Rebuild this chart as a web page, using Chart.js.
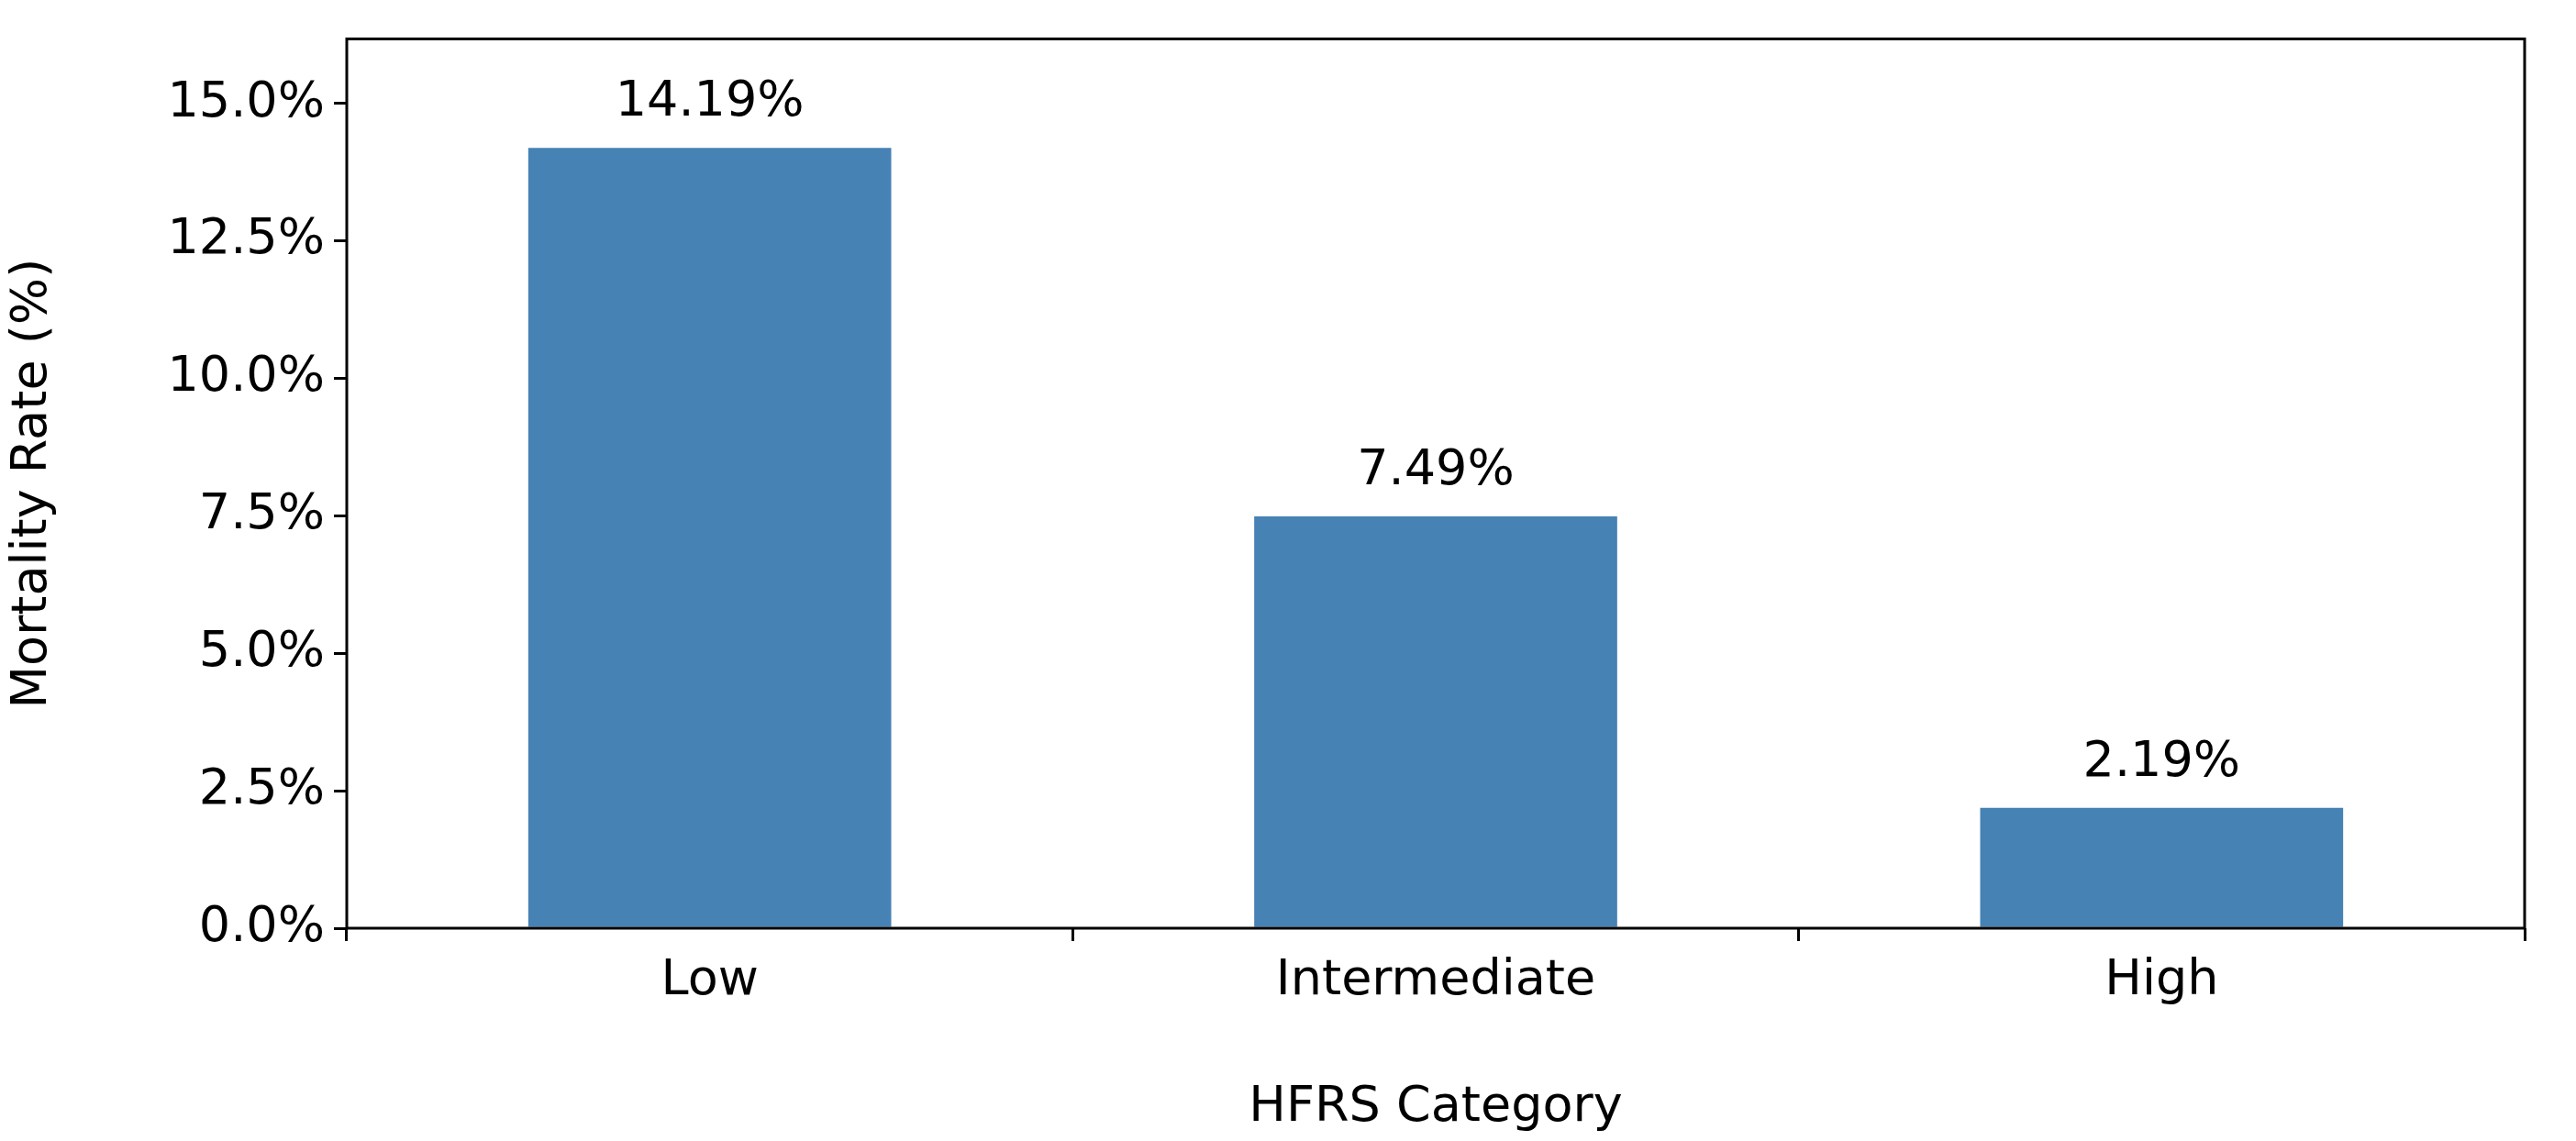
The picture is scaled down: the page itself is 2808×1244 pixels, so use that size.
<!DOCTYPE html>
<html><head><meta charset="utf-8">
<script src="https://cdn.jsdelivr.net/npm/chart.js@4"></script>
<style>html,body{margin:0;padding:0;background:#fff}canvas{display:block}</style>
</head><body>
<div style="width:2808px;height:1244px"><canvas id="c" width="2808" height="1244"></canvas></div>
<script>
const categories = ["Low", "Intermediate", "High"];
const mortality = [14.19, 7.49, 2.19];
const yTicks = [0, 2.5, 5, 7.5, 10, 12.5, 15];
const FONT = "'DejaVu Sans', sans-serif";
const boxPlugin = {
  id: 'box',
  afterDraw(chart) {
    const {ctx, chartArea: a} = chart;
    ctx.save();
    ctx.strokeStyle = '#000'; ctx.lineWidth = 3;
    ctx.strokeRect(a.left, a.top, a.right - a.left, a.bottom - a.top);
    const meta = chart.getDatasetMeta(0);
    ctx.fillStyle = '#000'; ctx.font = '54px ' + FONT;
    ctx.textAlign = 'center'; ctx.textBaseline = 'bottom';
    meta.data.forEach((bar, i) => {
      ctx.fillText(mortality[i].toFixed(2) + '%', bar.x, bar.y - 22);
    });
    ctx.restore();
  }
};
new Chart(document.getElementById('c'), {
  type: 'bar',
  data: { labels: categories, datasets: [{ data: mortality, backgroundColor: '#4682b4', barPercentage: 0.5, categoryPercentage: 1 }] },
  options: {
    responsive: false, animation: false, devicePixelRatio: 1,
    layout: { padding: { left: 0, right: 56, top: 14, bottom: 0 } },
    plugins: { legend: { display: false }, tooltip: { enabled: false } },
    scales: {
      x: {
        grid: { drawOnChartArea: false, tickLength: 14, color: '#000', lineWidth: 3 },
        border: { display: false },
        ticks: { color: '#000', font: { family: FONT, size: 54 }, padding: 12 },
        title: { display: true, text: 'HFRS Category', color: '#000', font: { family: FONT, size: 54 }, padding: { top: 6 } },
        afterFit(s) { s.height = 232; }
      },
      y: {
        min: 0, max: 16.17,
        afterBuildTicks(s) { s.ticks = yTicks.map(v => ({ value: v })); },
        grid: { drawOnChartArea: false, tickLength: 14, color: '#000', lineWidth: 3 },
        border: { display: false },
        ticks: { color: '#000', font: { family: FONT, size: 54 }, padding: 10, callback: v => v.toFixed(1) + '%' },
        title: { display: true, text: 'Mortality Rate (%)', color: '#000', font: { family: FONT, size: 54 }, padding: { bottom: 10 } },
        afterFit(s) { s.width = 378; }
      }
    }
  },
  plugins: [boxPlugin]
});
</script>
</body></html>
